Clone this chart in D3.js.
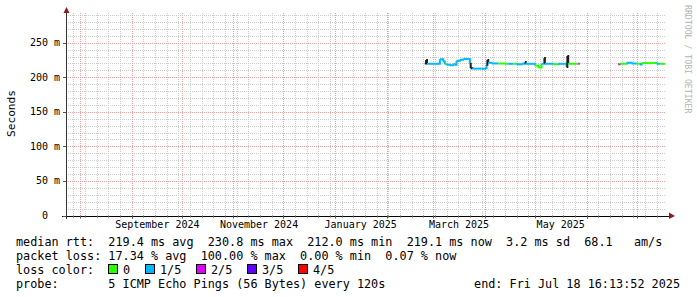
<!DOCTYPE html>
<html>
<head>
<meta charset="utf-8">
<script src="https://cdn.jsdelivr.net/npm/d3@7"></script>
<style>
    body { margin: 0; background: #fff; }
    text { font-family: "DejaVu Sans Mono", monospace; }
</style>
</head>
<body>
<div id="graphe"></div>
<script>
// dates des mesures (UTC), rtt median en ms, classe de perte (-1 = trait sombre)
const dates = [
    "2025-02-24 00:00", "2025-02-24 18:00", "2025-02-25 06:00", "2025-03-01 00:00",
    "2025-03-04 12:00", "2025-03-05 00:00", "2025-03-07 00:00", "2025-03-08 00:00",
    "2025-03-09 00:00", "2025-03-11 00:00", "2025-03-13 00:00", "2025-03-14 00:00",
    "2025-03-15 00:00", "2025-03-17 00:00", "2025-03-19 00:00", "2025-03-22 00:00",
    "2025-03-23 00:00", "2025-03-23 12:00", "2025-03-24 12:00", "2025-03-30 00:00",
    "2025-04-01 00:00", "2025-04-02 00:00", "2025-04-02 12:00", "2025-04-03 00:00",
    "2025-04-05 00:00", "2025-04-09 00:00", "2025-04-13 00:00", "2025-04-15 00:00",
    "2025-04-18 00:00", "2025-04-20 00:00", "2025-04-23 00:00", "2025-04-25 00:00",
    "2025-04-25 12:00", "2025-04-30 00:00", "2025-05-01 00:00", "2025-05-03 00:00",
    "2025-05-05 00:00", "2025-05-06 12:00", "2025-05-07 00:00", "2025-05-12 00:00",
    "2025-05-15 00:00", "2025-05-19 00:00", "2025-05-20 00:00", "2025-05-20 12:00",
    "2025-05-21 00:00", "2025-05-27 00:00", "2025-05-28 00:00",
    "2025-06-10 00:00",
    "2025-06-20 00:00", "2025-06-21 00:00", "2025-06-24 00:00", "2025-06-25 00:00",
    "2025-06-28 00:00", "2025-07-01 00:00", "2025-07-02 00:00", "2025-07-03 00:00",
    "2025-07-04 00:00", "2025-07-08 00:00", "2025-07-11 00:00", "2025-07-13 00:00",
    "2025-07-15 00:00", "2025-07-18 00:00"
];
const rtt = [
    220.0, 225.0, 219.5, 219.5,
    219.5, 226.0, 223.0, 219.0,
    218.0, 217.5, 219.0, 218.0,
    224.0, 225.5, 226.5, 226.5,
    219.5, 213.0, 212.5, 212.5,
    213.0, 218.0, 225.0, 221.0,
    220.0, 220.0, 219.5, 219.5,
    219.5, 219.0, 219.5, 222.0,
    219.5, 219.5, 217.0, 214.0,
    219.5, 228.0, 219.5, 219.0,
    219.5, 219.5, 215.0, 230.8,
    219.5, 219.5, 219.5,
    null,
    219.0, 219.5, 219.5, 221.0,
    220.0, 219.5, 219.5, 218.5,
    220.5, 220.5, 220.5, 219.5,
    219.5, 219.5
];
const perte = [
    -1, -1, 1, 1,
    1, 1, 1, 0,
    1, 1, 1, 1,
    1, 1, 1, 1,
    -1, -1, 1, 1,
    1, -1, -1, 1,
    1, 0, 0, 1,
    0, 1, 1, -1,
    1, 1, 0, 0,
    1, -1, 1, 0,
    1, 1, -1, -1,
    0, 2, 0,
    0,
    2, 0, 0, 1,
    1, 0, 0, 1,
    0, 0, 0, 1,
    0, 0
];

const couleursPerte = ["#26ff00", "#00b8ff", "#dd00ff", "#5e00ff", "#ff0000"];
const etiquettesPerte = ["0", "1/5", "2/5", "3/5", "4/5"];
const couleurSombre = "#1c1c1c";

const valeursY = [0, 50, 100, 150, 200, 250];
const moisEtiquetes = ["2024-09-01", "2024-11-01", "2025-01-01", "2025-03-01", "2025-05-01"];

const lignesLegende = [
    "median rtt:  219.4 ms avg  230.8 ms max  212.0 ms min  219.1 ms now  3.2 ms sd  68.1   am/s",
    "packet loss: 17.34 % avg  100.00 % max  0.00 % min  0.07 % now",
    "loss color:",
    "probe:       5 ICMP Echo Pings (56 Bytes) every 120s"
];
const texteFin = "end: Fri Jul 18 16:13:52 2025";

const fin = new Date(Date.UTC(2025, 6, 18, 16, 13, 52));
const debut = new Date(fin.getTime() - 360 * 86400000);

const largeur = 697, hauteur = 297;
const gauche = 66, droite = 666, haut = 13, bas = 215.5;

const svg = d3.select("#graphe").append("svg")
    .attr("width", largeur)
    .attr("height", hauteur);

const x = d3.scaleUtc().domain([debut, fin]).range([gauche, droite]);
const y = d3.scaleLinear().domain([0, 293]).range([bas, haut]);

const px = v => Math.round(v) + 0.5;
const lireDate = d3.utcParse("%Y-%m-%d %H:%M");

// grille mineure
const semaines = d3.utcSunday.range(debut, fin);
const mois = d3.utcMonth.range(debut, fin);
const moisSet = new Set(mois.map(d => +d));

svg.append("g").selectAll("line")
    .data(semaines.filter(d => !moisSet.has(+d)))
    .join("line")
    .attr("x1", d => px(x(d))).attr("x2", d => px(x(d)))
    .attr("y1", haut).attr("y2", bas)
    .attr("stroke", "#cccccc")
    .attr("stroke-dasharray", "1,1");

const dizaines = d3.range(10, 293, 10).filter(v => v % 50 !== 0);
svg.append("g").selectAll("line")
    .data(dizaines)
    .join("line")
    .attr("x1", gauche).attr("x2", droite)
    .attr("y1", d => px(y(d))).attr("y2", d => px(y(d)))
    .attr("stroke", "#cccccc")
    .attr("stroke-dasharray", "1,1");

// grille majeure
svg.append("g").selectAll("line")
    .data(mois)
    .join("line")
    .attr("x1", d => px(x(d))).attr("x2", d => px(x(d)))
    .attr("y1", haut).attr("y2", bas)
    .attr("stroke", "#eea0a0")
    .attr("stroke-dasharray", "1,1");

svg.append("g").selectAll("line")
    .data(valeursY.filter(v => v > 0))
    .join("line")
    .attr("x1", gauche).attr("x2", droite)
    .attr("y1", d => px(y(d))).attr("y2", d => px(y(d)))
    .attr("stroke", "#eea0a0")
    .attr("stroke-dasharray", "1,1");

// courbe du rtt median, un morceau par intervalle
const points = dates.map((d, i) => ({
    t: lireDate(d),
    v: rtt[i],
    p: perte[i]
}));

const ligne = d3.line()
    .x(d => x(d.t))
    .y(d => y(d.v))
    .curve(d3.curveStepAfter);

for (let i = 0; i < points.length - 1; i++) {
    const a = points[i], b = points[i + 1];
    if (a.v == null || b.v == null) continue;
    svg.append("path")
        .attr("d", ligne([a, b]))
        .attr("fill", "none")
        .attr("stroke", a.p < 0 ? couleurSombre : couleursPerte[a.p])
        .attr("stroke-width", 2);
}

// axes
svg.append("line")
    .attr("x1", 62).attr("x2", 670)
    .attr("y1", px(bas)).attr("y2", px(bas))
    .attr("stroke", "#000");
svg.append("line")
    .attr("x1", px(gauche)).attr("x2", px(gauche))
    .attr("y1", 219).attr("y2", 10)
    .attr("stroke", "#333");

svg.append("g").selectAll("line")
    .data(semaines)
    .join("line")
    .attr("x1", d => px(x(d))).attr("x2", d => px(x(d)))
    .attr("y1", bas).attr("y2", d => moisSet.has(+d) ? bas + 3 : bas + 2)
    .attr("stroke", "#555");
svg.append("g").selectAll("line")
    .data(mois)
    .join("line")
    .attr("x1", d => px(x(d))).attr("x2", d => px(x(d)))
    .attr("y1", bas).attr("y2", bas + 3)
    .attr("stroke", "#555");
svg.append("g").selectAll("line")
    .data(valeursY)
    .join("line")
    .attr("x1", gauche - 3).attr("x2", gauche)
    .attr("y1", d => px(y(d))).attr("y2", d => px(y(d)))
    .attr("stroke", "#555");

// fleches
svg.append("polygon")
    .attr("points", "669,212.5 675,216 669,219")
    .attr("fill", "#8b1c1c");
svg.append("polygon")
    .attr("points", "63.5,13 66.5,7 69.5,13")
    .attr("fill", "#8b1c1c");

// etiquettes des axes
svg.append("g").selectAll("text")
    .data(valeursY)
    .join("text")
    .attr("x", 60)
    .attr("y", d => y(d) + 3.5)
    .attr("text-anchor", "end")
    .style("white-space", "pre")
    .attr("font-size", "10px")
    .text(d => d === 0 ? "0\u00a0\u00a0" : d + " m");

svg.append("g").selectAll("text")
    .data(moisEtiquetes.map(d => lireDate(d + " 00:00")))
    .join("text")
    .attr("x", d => x(d3.utcHour.offset(d, 372)))
    .attr("y", 228)
    .attr("text-anchor", "middle")
    .attr("font-size", "10px")
    .text(d => d3.utcFormat("%B %Y")(d));

svg.append("text")
    .attr("transform", "translate(15,113.5) rotate(-90)")
    .attr("text-anchor", "middle")
    .attr("font-size", "11.2px")
    .text("Seconds");

svg.append("text")
    .attr("transform", "translate(685,5) rotate(90)")
    .attr("text-anchor", "start")
    .attr("font-size", "8.2px")
    .attr("fill", "#b4b4b4")
    .text("RRDTOOL / TOBI OETIKER");

// legende
svg.append("g").selectAll("text")
    .data(lignesLegende)
    .join("text")
    .attr("x", 16)
    .attr("y", (d, i) => 245.5 + i * 14)
    .attr("font-size", "11.8px")
    .style("white-space", "pre")
    .text(d => d);

svg.append("text")
    .attr("x", 680)
    .attr("y", 245.5 + 3 * 14)
    .attr("text-anchor", "end")
    .attr("font-size", "11.8px")
    .text(texteFin);

const positionsCases = [108.5, 145.5, 196.5, 247.5, 298.5];
etiquettesPerte.forEach((e, i) => {
    svg.append("rect")
        .attr("x", positionsCases[i]).attr("y", 264.5)
        .attr("width", 9).attr("height", 9)
        .attr("fill", couleursPerte[i])
        .attr("stroke", "#000");
    svg.append("text")
        .attr("x", positionsCases[i] + 14.5)
        .attr("y", 273.5)
        .attr("font-size", "11.8px")
        .text(e);
});
</script>
</body>
</html>
